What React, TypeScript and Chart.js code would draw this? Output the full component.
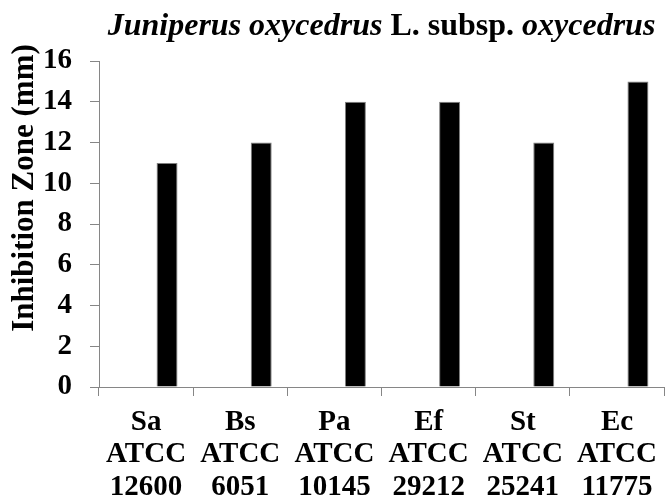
import React, { useEffect, useRef } from "react";
import { Chart, registerables } from "chart.js";

Chart.register(...registerables);

// ---- data ----
const categories: string[][] = [
  ["Sa", "ATCC", "12600"],
  ["Bs", "ATCC", "6051"],
  ["Pa", "ATCC", "10145"],
  ["Ef", "ATCC", "29212"],
  ["St", "ATCC", "25241"],
  ["Ec", "ATCC", "11775"],
];
const emptySeries: (number | null)[] = [null, null, null, null, null, null];
const inhibitionZone: number[] = [11, 12, 14, 14, 12, 15];
const yMin = 0;
const yMax = 16;
const yStep = 2;
const titleParts = [
  { text: "Juniperus oxycedrus", italic: true },
  { text: " L. subsp. ", italic: false },
  { text: "oxycedrus", italic: true },
];
const yAxisTitle = "Inhibition Zone (mm)";

// ---- styles ----
const SERIF = '"Liberation Serif", "Times New Roman", Times, serif';
const AXIS_GRAY = "#868686";

const titlePlugin = {
  id: "mixedTitles",
  afterDraw(chart: any) {
    const { ctx, chartArea } = chart;
    ctx.save();
    ctx.fillStyle = "#000";
    ctx.textBaseline = "alphabetic";
    ctx.textAlign = "left";
    const size = 32;
    const fonts = titleParts.map(
      (p) => `${p.italic ? "italic " : ""}bold ${size}px ${SERIF}`
    );
    let total = 0;
    const widths = titleParts.map((p, i) => {
      ctx.font = fonts[i];
      const w = ctx.measureText(p.text).width;
      total += w;
      return w;
    });
    let x = (chartArea.left + chartArea.right) / 2 - total / 2;
    titleParts.forEach((p, i) => {
      ctx.font = fonts[i];
      ctx.fillText(p.text, x, 34.5);
      x += widths[i];
    });
    // rotated y-axis title
    ctx.translate(33, 188);
    ctx.rotate(-Math.PI / 2);
    ctx.font = `bold 31px ${SERIF}`;
    ctx.textAlign = "center";
    ctx.fillText(yAxisTitle, 0, 0);
    ctx.restore();
  },
};

export default function App() {
  const canvasRef = useRef<HTMLCanvasElement | null>(null);

  useEffect(() => {
    document.body.style.margin = "0";
    document.body.style.overflow = "hidden";
    const canvas = canvasRef.current;
    if (!canvas) return;
    const chart = new Chart(canvas, {
      type: "bar",
      data: {
        labels: categories,
        datasets: [
          {
            label: "blank",
            data: emptySeries,
            backgroundColor: "#000",
          },
          {
            label: "Inhibition zone",
            data: inhibitionZone,
            backgroundColor: "#000000",
            borderColor: "#7f7f7f",
            borderWidth: 1,
          },
        ],
      },
      options: {
        animation: false,
        responsive: true,
        maintainAspectRatio: false,
        devicePixelRatio: 1,
        layout: { padding: { top: 61, left: 0, right: 0, bottom: 0 } },
        datasets: {
          bar: { categoryPercentage: 0.89, barPercentage: 0.5 },
        },
        plugins: {
          legend: { display: false },
          tooltip: { enabled: false },
          title: { display: false },
        },
        scales: {
          x: {
            offset: true,
            grid: {
              display: true,
              drawOnChartArea: false,
              drawTicks: true,
              tickLength: 9,
              color: AXIS_GRAY,
              offset: true,
            },
            border: { display: true, color: AXIS_GRAY, width: 1 },
            ticks: {
              color: "#000",
              font: { family: SERIF, size: 29, weight: "bold", lineHeight: 1.12 },
              padding: 10,
              maxRotation: 0,
              autoSkip: false,
            },
            afterFit(scale: any) {
              scale.height = 112;
            },
          },
          y: {
            min: yMin,
            max: yMax,
            grid: {
              display: true,
              drawOnChartArea: false,
              drawTicks: true,
              tickLength: 9,
              color: AXIS_GRAY,
            },
            border: { display: true, color: AXIS_GRAY, width: 1 },
            ticks: {
              stepSize: yStep,
              color: "#000",
              font: { family: SERIF, size: 29, weight: "bold" },
              padding: 18,
            },
            afterFit(scale: any) {
              scale.width = 99;
            },
          },
        },
      },
      plugins: [titlePlugin],
    });
    return () => chart.destroy();
  }, []);

  return (
    <div style={{ width: 665, height: 499, overflow: "hidden", position: "relative" }}>
      <div style={{ width: 667, height: 499, position: "relative" }}>
        <canvas ref={canvasRef} />
      </div>
    </div>
  );
}
